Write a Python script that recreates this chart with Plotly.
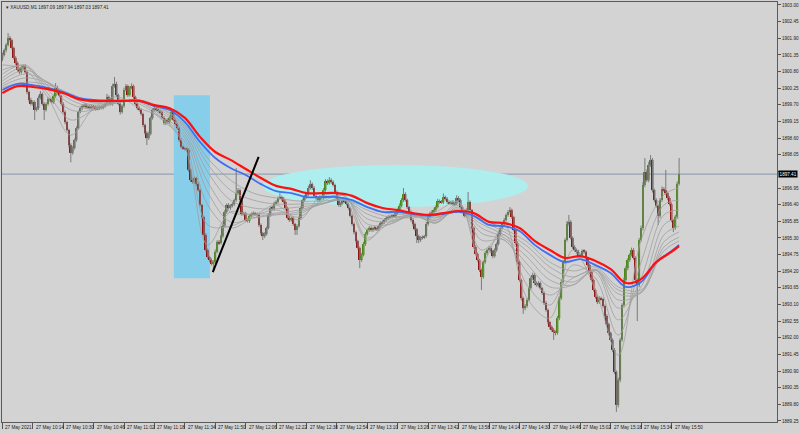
import plotly.graph_objects as go

# ---------------- data ----------------
symbol_title = "XAUUSD,M1 1897.09 1897.94 1897.03 1897.41"
time_labels = ["27 May 2021", "27 May 10:14", "27 May 10:30", "27 May 10:46", "27 May 11:02",
               "27 May 11:18", "27 May 11:34", "27 May 11:50", "27 May 12:06", "27 May 12:22",
               "27 May 12:38", "27 May 12:54", "27 May 13:10", "27 May 13:26", "27 May 13:42",
               "27 May 13:58", "27 May 14:14", "27 May 14:30", "27 May 14:46", "27 May 15:02",
               "27 May 15:18", "27 May 15:34", "27 May 15:50"]
label_bars = [0, 16, 32, 48, 64, 80, 96, 112, 128, 144, 160, 176, 192, 208, 224, 240,
              256, 272, 288, 304, 320, 336, 352]

first_open = 1901.20
closes = [
    1901.35, 1901.51, 1901.68, 1901.91, 1901.84, 1901.58, 1901.25, 1901.08, 1900.85, 1900.78, 1900.92, 1900.98, 1900.78, 1900.12, 1899.86, 1899.73, 1899.79, 1899.53, 1899.59, 1899.93,
    1900.06, 1899.73, 1899.53, 1899.73, 1899.89, 1899.86, 1899.79, 1899.99, 1900.26, 1900.12, 1899.99, 1899.73, 1899.46, 1899.13, 1898.87, 1898.37, 1898.11, 1898.27, 1898.54, 1898.93,
    1899.46, 1899.59, 1899.66, 1899.70, 1899.62, 1899.66, 1899.59, 1899.66, 1899.63, 1899.56, 1899.59, 1899.63, 1899.60, 1899.66, 1899.73, 1899.96, 1899.86, 1899.73, 1900.32, 1900.39,
    1900.02, 1899.73, 1899.46, 1899.66, 1900.19, 1900.32, 1900.02, 1900.26, 1900.32, 1899.96, 1899.73, 1899.59, 1899.53, 1899.40, 1899.03, 1898.77, 1898.60, 1898.74, 1899.27, 1899.53,
    1899.59, 1899.53, 1899.50, 1899.46, 1899.27, 1899.10, 1899.20, 1899.13, 1899.27, 1899.46, 1899.20, 1899.07, 1898.93, 1898.54, 1898.31, 1898.27, 1898.24, 1898.21, 1897.55, 1897.21,
    1897.15, 1897.28, 1897.08, 1896.88, 1896.39, 1895.99, 1895.40, 1894.90, 1894.67, 1894.57, 1894.44, 1894.50, 1894.84, 1895.17, 1895.13, 1895.36, 1895.69, 1896.16, 1896.39, 1896.29,
    1896.36, 1896.42, 1896.55, 1896.78, 1896.88, 1896.55, 1896.09, 1896.12, 1895.89, 1895.86, 1896.03, 1896.09, 1896.12, 1896.09, 1896.06, 1895.73, 1895.46, 1895.36, 1895.43, 1895.63,
    1896.06, 1896.29, 1896.26, 1896.45, 1896.49, 1896.62, 1896.65, 1896.59, 1896.49, 1896.29, 1895.96, 1895.89, 1895.96, 1895.76, 1895.56, 1895.69, 1895.96, 1896.29, 1896.55, 1896.65,
    1896.75, 1896.95, 1897.08, 1896.95, 1896.69, 1896.62, 1896.55, 1896.65, 1896.62, 1896.88, 1897.18, 1897.11, 1897.21, 1897.15, 1897.05, 1896.82, 1896.59, 1896.39, 1896.45, 1896.55,
    1896.52, 1896.42, 1896.29, 1896.03, 1895.76, 1895.49, 1895.20, 1894.97, 1894.57, 1894.74, 1895.10, 1895.43, 1895.56, 1895.63, 1895.56, 1895.63, 1895.60, 1895.59, 1895.69, 1895.79,
    1895.83, 1895.89, 1895.96, 1895.99, 1896.00, 1896.03, 1896.02, 1896.12, 1896.22, 1896.36, 1896.55, 1896.75, 1896.55, 1896.32, 1896.16, 1895.89, 1895.76, 1895.59, 1895.36, 1895.23,
    1895.30, 1895.33, 1895.36, 1895.76, 1895.99, 1896.12, 1896.16, 1896.22, 1896.32, 1896.52, 1896.49, 1896.48, 1896.65, 1896.59, 1896.49, 1896.45, 1896.49, 1896.42, 1896.43, 1896.62,
    1896.55, 1896.32, 1896.19, 1896.03, 1896.22, 1896.49, 1896.22, 1895.63, 1895.00, 1894.77, 1894.57, 1894.24, 1894.01, 1894.50, 1894.80, 1894.90, 1894.97, 1894.87, 1894.70, 1894.90,
    1895.10, 1895.43, 1895.63, 1895.76, 1895.89, 1896.06, 1896.16, 1896.22, 1895.99, 1895.56, 1895.13, 1894.50, 1893.91, 1893.31, 1892.98, 1893.05, 1893.25, 1893.64, 1893.97, 1894.07,
    1893.81, 1893.74, 1893.81, 1893.64, 1893.48, 1893.15, 1892.92, 1892.52, 1892.36, 1892.26, 1892.19, 1892.16, 1892.65, 1893.31, 1893.84, 1894.50, 1895.23, 1895.76, 1895.83, 1895.30,
    1895.00, 1894.90, 1894.84, 1894.70, 1894.72, 1894.87, 1894.84, 1894.64, 1894.40, 1894.17, 1893.91, 1893.58, 1893.35, 1893.18, 1893.31, 1893.28, 1893.05, 1892.72, 1892.45, 1892.16,
    1891.93, 1891.60, 1890.87, 1889.78, 1890.60, 1891.93, 1893.08, 1893.91, 1894.30, 1894.57, 1894.74, 1894.90, 1894.64, 1893.91, 1893.74, 1895.23, 1895.63, 1897.05, 1897.48, 1897.21,
    1897.71, 1897.88, 1896.88, 1896.55, 1896.36, 1896.03, 1896.55, 1896.92, 1896.88, 1896.78, 1896.62, 1896.42, 1895.89, 1895.63, 1896.00, 1897.09, 1897.41,
]
wick_up = [
    0.08, 0.05, 0.06, 0.16, 0.07, 0.05, 0.04, 0.06, 0.05, 0.08, 0.07, 0.05, 0.06, 0.04, 0.05, 0.07, 0.06, 0.05, 0.04, 0.08,
    0.10, 0.05, 0.06, 0.05, 0.07, 0.04, 0.06, 0.05, 0.16, 0.07, 0.05, 0.04, 0.06, 0.05, 0.05, 0.04, 0.06, 0.07, 0.05, 0.06,
    0.05, 0.06, 0.05, 0.04, 0.06, 0.05, 0.05, 0.06, 0.04, 0.05, 0.06, 0.05, 0.04, 0.06, 0.05, 0.10, 0.05, 0.06, 0.08, 0.23,
    0.07, 0.05, 0.06, 0.05, 0.08, 0.07, 0.05, 0.06, 0.09, 0.05, 0.04, 0.05, 0.06, 0.05, 0.04, 0.05, 0.06, 0.07, 0.05, 0.06,
    0.05, 0.06, 0.05, 0.04, 0.05, 0.06, 0.05, 0.05, 0.07, 0.06, 0.10, 0.05, 0.04, 0.05, 0.06, 0.05, 0.04, 0.05, 0.06, 0.05,
    0.06, 0.05, 0.04, 0.06, 0.05, 0.04, 0.05, 0.06, 0.05, 0.04, 0.05, 0.06, 0.08, 0.05, 0.06, 0.05, 0.07, 0.06, 0.05, 0.06,
    0.05, 0.06, 0.05, 0.83, 0.07, 0.05, 0.06, 0.05, 0.04, 0.06, 0.05, 0.05, 0.06, 0.04, 0.05, 0.06, 0.05, 0.04, 0.06, 0.05,
    0.06, 0.05, 0.07, 0.05, 0.06, 0.05, 0.13, 0.05, 0.06, 0.05, 0.04, 0.06, 0.05, 0.05, 0.04, 0.06, 0.05, 0.06, 0.05, 0.07,
    0.06, 0.08, 0.13, 0.05, 0.06, 0.05, 0.04, 0.06, 0.05, 0.07, 0.06, 0.05, 0.10, 0.06, 0.05, 0.04, 0.05, 0.06, 0.05, 0.06,
    0.05, 0.06, 0.05, 0.04, 0.05, 0.06, 0.05, 0.04, 0.05, 0.06, 0.07, 0.06, 0.05, 0.06, 0.05, 0.04, 0.06, 0.05, 0.05, 0.06,
    0.05, 0.06, 0.05, 0.06, 0.05, 0.04, 0.06, 0.05, 0.06, 0.08, 0.07, 0.20, 0.06, 0.05, 0.04, 0.05, 0.06, 0.05, 0.04, 0.05,
    0.06, 0.05, 0.04, 0.07, 0.06, 0.05, 0.06, 0.05, 0.06, 0.07, 0.05, 0.06, 0.12, 0.05, 0.06, 0.05, 0.04, 0.06, 0.05, 0.09,
    0.06, 0.05, 0.04, 0.05, 0.06, 0.33, 0.05, 0.04, 0.05, 0.06, 0.05, 0.04, 0.05, 0.06, 0.07, 0.05, 0.06, 0.05, 0.04, 0.06,
    0.05, 0.06, 0.05, 0.06, 0.07, 0.05, 0.06, 0.10, 0.05, 0.04, 0.05, 0.06, 0.05, 0.04, 0.05, 0.06, 0.07, 0.05, 0.06, 0.08,
    0.06, 0.05, 0.06, 0.05, 0.04, 0.05, 0.06, 0.05, 0.04, 0.05, 0.06, 0.05, 0.07, 0.06, 0.08, 0.07, 0.06, 0.10, 0.23, 0.06,
    0.05, 0.06, 0.05, 0.07, 0.06, 0.05, 0.06, 0.05, 0.04, 0.05, 0.06, 0.05, 0.04, 0.05, 0.06, 0.05, 0.04, 0.05, 0.06, 0.05,
    0.04, 0.05, 0.06, 0.05, 0.08, 0.07, 0.06, 0.08, 0.07, 0.06, 0.05, 0.08, 0.06, 0.05, 0.06, 0.07, 0.08, 0.10, 0.46, 0.08,
    0.10, 0.16, 0.06, 0.05, 0.06, 0.05, 0.07, 0.08, 0.06, 0.67, 0.05, 0.06, 0.05, 0.04, 0.06, 0.08, 0.53,
]
wick_dn = [
    0.06, 0.05, 0.07, 0.05, 0.06, 0.04, 0.05, 0.06, 0.05, 0.07, 0.05, 0.06, 0.05, 0.07, 0.06, 0.05, 0.06, 0.33, 0.05, 0.06,
    0.05, 0.06, 0.33, 0.05, 0.06, 0.05, 0.04, 0.06, 0.05, 0.06, 0.05, 0.06, 0.05, 0.07, 0.06, 0.08, 0.31, 0.06, 0.05, 0.06,
    0.05, 0.04, 0.06, 0.05, 0.06, 0.05, 0.04, 0.05, 0.06, 0.05, 0.04, 0.06, 0.05, 0.05, 0.06, 0.05, 0.06, 0.05, 0.06, 0.05,
    0.06, 0.05, 0.08, 0.05, 0.06, 0.05, 0.06, 0.05, 0.04, 0.06, 0.05, 0.06, 0.05, 0.06, 0.07, 0.05, 0.23, 0.06, 0.05, 0.06,
    0.05, 0.06, 0.05, 0.06, 0.05, 0.06, 0.07, 0.05, 0.06, 0.05, 0.06, 0.05, 0.06, 0.07, 0.05, 0.06, 0.05, 0.06, 0.07, 0.06,
    0.05, 0.06, 0.07, 0.05, 0.06, 0.07, 0.06, 0.05, 0.06, 0.07, 0.05, 0.27, 0.06, 0.05, 0.06, 0.05, 0.06, 0.05, 0.06, 0.05,
    0.06, 0.05, 0.06, 0.05, 0.06, 0.07, 0.06, 0.05, 0.06, 0.05, 0.06, 0.05, 0.04, 0.05, 0.06, 0.07, 0.06, 0.13, 0.06, 0.05,
    0.05, 0.06, 0.05, 0.06, 0.05, 0.06, 0.05, 0.06, 0.05, 0.06, 0.05, 0.06, 0.05, 0.06, 0.16, 0.16, 0.05, 0.06, 0.05, 0.06,
    0.05, 0.06, 0.05, 0.06, 0.05, 0.06, 0.05, 0.06, 0.05, 0.06, 0.05, 0.06, 0.05, 0.06, 0.05, 0.06, 0.05, 0.06, 0.07, 0.05,
    0.06, 0.05, 0.06, 0.05, 0.06, 0.07, 0.06, 0.05, 0.27, 0.06, 0.05, 0.06, 0.05, 0.06, 0.05, 0.06, 0.05, 0.06, 0.05, 0.06,
    0.05, 0.06, 0.05, 0.06, 0.05, 0.06, 0.05, 0.06, 0.05, 0.06, 0.05, 0.06, 0.05, 0.06, 0.05, 0.06, 0.07, 0.06, 0.23, 0.10,
    0.06, 0.05, 0.06, 0.05, 0.06, 0.05, 0.06, 0.05, 0.06, 0.05, 0.06, 0.05, 0.06, 0.05, 0.06, 0.05, 0.06, 0.05, 0.06, 0.05,
    0.06, 0.05, 0.06, 0.05, 0.06, 0.05, 0.06, 0.07, 0.06, 0.05, 0.06, 0.07, 0.43, 0.06, 0.05, 0.06, 0.05, 0.06, 0.07, 0.05,
    0.06, 0.05, 0.06, 0.05, 0.06, 0.05, 0.06, 0.05, 0.06, 0.05, 0.06, 0.07, 0.06, 0.08, 0.19, 0.07, 0.06, 0.05, 0.06, 0.05,
    0.06, 0.05, 0.06, 0.05, 0.06, 0.07, 0.06, 0.07, 0.08, 0.06, 0.26, 0.08, 0.06, 0.07, 0.06, 0.05, 0.06, 0.05, 0.06, 0.05,
    0.06, 0.05, 0.06, 0.05, 0.06, 0.05, 0.06, 0.05, 0.06, 0.07, 0.06, 0.05, 0.06, 0.07, 0.06, 0.05, 0.06, 0.07, 0.06, 0.08,
    0.06, 0.08, 0.07, 0.23, 0.08, 0.07, 0.06, 0.08, 0.06, 0.07, 0.06, 0.05, 0.06, 0.08, 1.19, 0.07, 0.06, 0.08, 0.07, 0.06,
    0.07, 0.06, 0.08, 0.07, 0.06, 0.30, 0.07, 0.06, 0.05, 0.06, 0.07, 0.06, 0.07, 0.14, 0.06, 0.05, 0.06,
]

# slow moving averages (red / blue), read every 8 bars
ma_bars = [0, 8, 16, 24, 32, 40, 48, 56, 64, 72, 80, 88, 96, 104, 112, 120, 128, 136, 144, 152,
           160, 168, 176, 184, 192, 200, 208, 216, 224, 232, 240, 248, 256, 264, 272, 280, 288,
           296, 304, 312, 320, 328, 336, 344, 352, 356]
ma_red = [1900.09, 1900.32, 1900.29, 1900.22, 1900.09, 1899.89, 1899.83, 1899.83, 1899.83, 1899.83,
          1899.69, 1899.59, 1899.27, 1898.64, 1898.14, 1897.88, 1897.58, 1897.28, 1897.02, 1896.92,
          1896.78, 1896.78, 1896.78, 1896.69, 1896.45, 1896.29, 1896.22, 1896.12, 1896.06, 1896.12,
          1896.19, 1896.12, 1895.83, 1895.79, 1895.63, 1895.20, 1894.90, 1894.64, 1894.70, 1894.54,
          1894.27, 1893.81, 1893.94, 1894.50, 1894.84, 1895.03]
ma_blue = [1900.19, 1900.39, 1900.35, 1900.26, 1900.12, 1899.93, 1899.86, 1899.83, 1899.83, 1899.83,
           1899.66, 1899.53, 1899.13, 1898.47, 1897.94, 1897.61, 1897.38, 1897.08, 1896.85, 1896.78,
           1896.65, 1896.65, 1896.65, 1896.55, 1896.32, 1896.16, 1896.16, 1896.09, 1896.03, 1896.09,
           1896.16, 1896.03, 1895.73, 1895.69, 1895.53, 1895.07, 1894.74, 1894.50, 1894.60, 1894.40,
           1894.14, 1893.68, 1893.84, 1894.50, 1894.87, 1895.07]

# faster moving averages (gray fan), read every 12 bars
gray_bars = [0, 12, 24, 36, 48, 60, 72, 84, 96, 108, 120, 132, 144, 156, 168, 180, 192, 204,
             216, 228, 240, 252, 264, 276, 288, 300, 312, 324, 336, 348, 356]
gray_1 = [1901.02, 1900.85, 1899.93, 1898.70, 1899.59, 1899.96, 1899.59, 1899.26, 1898.31, 1895.07, 1896.16,
          1896.06, 1896.39, 1895.89, 1896.69, 1896.55, 1895.23, 1895.96, 1895.96, 1896.16, 1896.49, 1894.50,
          1895.73, 1893.31, 1892.65, 1894.90, 1893.58, 1891.43, 1895.23, 1896.72, 1896.95]
gray_2 = [1900.85, 1900.98, 1900.06, 1899.20, 1899.53, 1899.86, 1899.73, 1899.20, 1898.47, 1895.73, 1895.69,
          1896.02, 1896.22, 1895.99, 1896.55, 1896.69, 1895.30, 1895.83, 1896.09, 1895.89, 1896.45, 1894.90,
          1895.40, 1893.74, 1893.08, 1894.40, 1893.97, 1892.09, 1894.50, 1896.39, 1896.55]
gray_3 = [1900.72, 1901.02, 1900.19, 1899.53, 1899.53, 1899.79, 1899.79, 1899.26, 1898.60, 1896.39, 1895.63,
          1895.96, 1896.09, 1896.09, 1896.49, 1896.69, 1895.56, 1895.76, 1896.09, 1895.79, 1896.39, 1895.23,
          1895.23, 1894.17, 1893.41, 1893.97, 1894.17, 1892.59, 1893.97, 1896.06, 1896.22]
gray_4 = [1900.59, 1900.95, 1900.32, 1899.73, 1899.56, 1899.76, 1899.83, 1899.33, 1898.70, 1896.82, 1895.83,
          1895.96, 1896.06, 1896.16, 1896.42, 1896.62, 1895.76, 1895.76, 1896.06, 1895.79, 1896.32, 1895.46,
          1895.23, 1894.44, 1893.68, 1893.74, 1894.24, 1892.98, 1893.68, 1895.73, 1895.96]
gray_5 = [1900.49, 1900.85, 1900.42, 1899.86, 1899.63, 1899.76, 1899.86, 1899.43, 1898.80, 1897.15, 1896.16,
          1896.09, 1896.12, 1896.22, 1896.42, 1896.59, 1895.93, 1895.83, 1896.02, 1895.83, 1896.26, 1895.63,
          1895.30, 1894.67, 1893.91, 1893.74, 1894.24, 1893.25, 1893.51, 1895.40, 1895.69]
gray_6 = [1900.39, 1900.72, 1900.45, 1899.96, 1899.69, 1899.79, 1899.86, 1899.50, 1898.90, 1897.48, 1896.55,
          1896.29, 1896.26, 1896.32, 1896.42, 1896.55, 1896.09, 1895.89, 1896.02, 1895.89, 1896.22, 1895.76,
          1895.40, 1894.87, 1894.14, 1893.84, 1894.24, 1893.45, 1893.48, 1895.17, 1895.50]
gray_7 = [1900.32, 1900.59, 1900.42, 1900.02, 1899.76, 1899.79, 1899.86, 1899.56, 1898.97, 1897.74, 1896.88,
          1896.55, 1896.42, 1896.42, 1896.45, 1896.55, 1896.22, 1895.99, 1896.06, 1895.96, 1896.19, 1895.86,
          1895.50, 1895.03, 1894.34, 1894.01, 1894.27, 1893.58, 1893.51, 1895.00, 1895.33]
gray_8 = [1900.26, 1900.45, 1900.36, 1900.06, 1899.79, 1899.83, 1899.86, 1899.59, 1899.03, 1897.94, 1897.21,
          1896.78, 1896.62, 1896.52, 1896.52, 1896.55, 1896.32, 1896.09, 1896.09, 1895.99, 1896.16, 1895.93,
          1895.59, 1895.17, 1894.50, 1894.21, 1894.34, 1893.68, 1893.58, 1894.87, 1895.20]

price_ticks = [1889.25, 1889.80, 1890.35, 1890.90, 1891.45, 1892.00, 1892.55, 1893.10, 1893.65,
               1894.20, 1894.75, 1895.30, 1895.85, 1896.40, 1896.95, 1897.50, 1898.05, 1898.60,
               1899.15, 1899.70, 1900.25, 1900.80, 1901.35, 1901.90, 1902.45, 1903.00]
price_tick_text = ["1889.25", "1889.80", "1890.35", "1890.90", "1891.45", "1892.00", "1892.55",
                   "1893.10", "1893.65", "1894.20", "1894.75", "1895.30", "1895.85", "1896.40",
                   "1896.95", "", "1898.05", "1898.60", "1899.15", "1899.70", "1900.25", "1900.80",
                   "1901.35", "1901.90", "1902.45", "1903.00"]
last_price = 1897.41

# drawn objects (bar index / price)
box_bars = [90.2, 109.2]
box_prices = [1893.97, 1900.02]
ellipse_bars = [136.9, 276.5]
ellipse_prices = [1896.32, 1897.71]
trend_bars = [110.7, 134.8]
trend_prices = [1894.17, 1897.98]

# ---------------- build ----------------
n = len(closes)
bars = list(range(n))
opens = [first_open] + closes[:-1]
highs = [max(o, c) + u for o, c, u in zip(opens, closes, wick_up)]
lows = [min(o, c) - d for o, c, d in zip(opens, closes, wick_dn)]

BG = "#d3d3d3"
UP = "#4a8a14"
DOWN = "#8e1414"
WICK = "#7a7a7a"
FONT = "Liberation Sans"

fig = go.Figure()

# wicks
wx, wy = [], []
for i in bars:
    wx += [i, i, None]
    wy += [lows[i], highs[i], None]
fig.add_trace(go.Scatter(x=wx, y=wy, mode="lines", line=dict(color=WICK, width=1),
                         hoverinfo="skip"))

# bodies
base = [min(o, c) for o, c in zip(opens, closes)]
height = [max(abs(c - o), 0.02) for o, c in zip(opens, closes)]
colors = [UP if c >= o else DOWN for o, c in zip(opens, closes)]
fig.add_trace(go.Bar(x=bars, y=height, base=base, width=0.95,
                     marker=dict(color=colors, line=dict(width=0))))

for g in [gray_1, gray_2, gray_3, gray_4, gray_5, gray_6, gray_7, gray_8]:
    fig.add_trace(go.Scatter(x=gray_bars, y=g, mode="lines",
                             line=dict(color="#a0a0a0", width=0.8, shape="spline")))
fig.add_trace(go.Scatter(x=ma_bars, y=ma_blue, mode="lines",
                         line=dict(color="#3f6ff2", width=1.8, shape="spline")))
fig.add_trace(go.Scatter(x=ma_bars, y=ma_red, mode="lines",
                         line=dict(color="#ff1010", width=2.2, shape="spline")))

shapes = [
    dict(type="rect", xref="x", yref="y", x0=box_bars[0], x1=box_bars[1],
         y0=box_prices[0], y1=box_prices[1], fillcolor="#87ceeb", line=dict(width=0), layer="below"),
    dict(type="circle", xref="x", yref="y", x0=ellipse_bars[0], x1=ellipse_bars[1],
         y0=ellipse_prices[0], y1=ellipse_prices[1], fillcolor="#aeeeee", line=dict(width=0), layer="below"),
    dict(type="line", xref="paper", yref="y", x0=0, x1=1, y0=last_price, y1=last_price,
         line=dict(color="#8797ab", width=1), layer="below"),
    dict(type="line", xref="x", yref="y", x0=trend_bars[0], x1=trend_bars[1],
         y0=trend_prices[0], y1=trend_prices[1], line=dict(color="#000000", width=2), layer="above"),
]

annotations = []
for b, t in zip(label_bars, time_labels):
    annotations.append(dict(x=b, xref="x", y=0, yref="paper", text=t, showarrow=False,
                            xanchor="left", yanchor="top", xshift=1, yshift=-1,
                            font=dict(family=FONT, size=4.6, color="#222")))
annotations.append(dict(x=0, xref="paper", y=1, yref="paper", text="▾ " + symbol_title,
                        showarrow=False, xanchor="left", yanchor="top", xshift=2, yshift=-1,
                        font=dict(family=FONT, size=4.6, color="#222")))
annotations.append(dict(x=1, xref="paper", y=last_price, yref="y", text=f"{last_price:.2f}",
                        showarrow=False, xanchor="left", yanchor="middle", xshift=1,
                        bgcolor="#000000", borderpad=0.6,
                        font=dict(family=FONT, size=4.6, color="#ffffff")))

fig.update_layout(
    width=800, height=433,
    margin=dict(l=1, r=22, t=2, b=11),
    paper_bgcolor=BG, plot_bgcolor=BG,
    showlegend=False, barmode="overlay", hovermode=False,
    shapes=shapes, annotations=annotations,
    xaxis=dict(range=[-0.2, 407.5], showgrid=False, zeroline=False,
               tickmode="array", tickvals=label_bars, showticklabels=False,
               ticks="outside", ticklen=6, tickcolor="#555", tickwidth=1,
               showline=True, linecolor="#5a5a5a", linewidth=1, mirror=True),
    yaxis=dict(range=[1889.215, 1903.099], side="right", showgrid=False, zeroline=False,
               tickmode="array", tickvals=price_ticks, ticktext=price_tick_text,
               ticks="outside", ticklen=3, tickcolor="#555", tickwidth=1,
               tickfont=dict(family=FONT, size=4.6, color="#222"),
               showline=True, linecolor="#5a5a5a", linewidth=1, mirror=True),
)

fig.write_html("out.html", config={"displayModeBar": False},
               post_script="document.body.style.margin='0px';document.body.style.background='#d3d3d3';")
